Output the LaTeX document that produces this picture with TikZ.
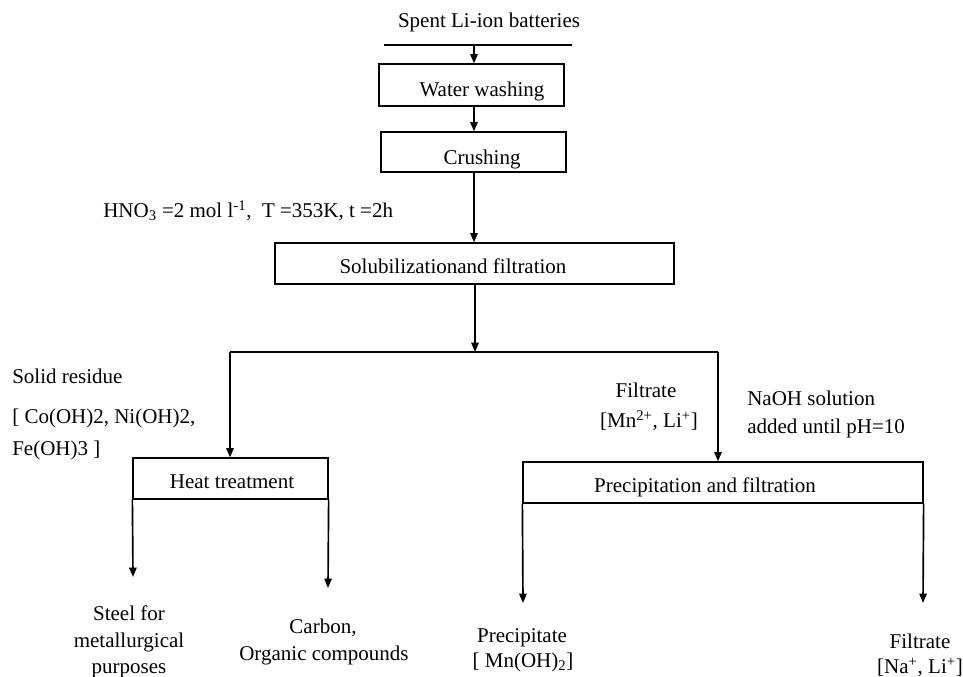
\documentclass[tikz,border=0pt]{standalone}
\usepackage{fontspec}
\setmainfont{Liberation Serif}
\usetikzlibrary{arrows.meta,fit}
\begin{document}
\begin{tikzpicture}[x=0.75pt,y=-0.75pt,
  every node/.style={font=\fontsize{15.75}{20.25}\selectfont, inner sep=0pt},
  box/.style={draw, line width=0.95pt, fit=#1, inner sep=0pt},
  conn/.style={line width=1.25pt, -{Triangle[length=7pt,width=5.5pt]}},
  plain/.style={line width=1pt},
  txt/.style={anchor=base},
  lbl/.style={anchor=base west}]
\useasboundingbox (0,0) rectangle (963,676);
% box corners
\coordinate (w1) at (379,64);  \coordinate (w2) at (564,106);
\coordinate (c1) at (381,132); \coordinate (c2) at (566,172);
\coordinate (o1) at (275,243); \coordinate (o2) at (674,284);
\coordinate (h1) at (133,458); \coordinate (h2) at (328,499);
\coordinate (p1) at (523,462); \coordinate (p2) at (923,503);
\node[box={(w1)(w2)}] (water) {};
\node[box={(c1)(c2)}] (crush) {};
\node[box={(o1)(o2)}] (sol) {};
\node[box={(h1)(h2)}] (heat) {};
\node[box={(p1)(p2)}] (prec) {};
% texts
\node[txt] (spent) at (489,27) {Spent Li-ion batteries};
\node[txt] (waterT) at (482,96) {Water washing};
\node[txt] (crushT) at (482,164) {Crushing};
\node[lbl] (hno) at (103,217) {HNO\textsubscript{3} =2 mol l\textsuperscript{-1},~~T =353K, t =2h};
\node[txt] (solT) at (453,273) {Solubilizationand filtration};
\node[txt] (heatT) at (232,488) {Heat treatment};
\node[txt] (precT) at (705,492) {Precipitation and filtration};
\node[lbl] (sr1) at (12,383) {Solid residue};
\node[lbl] (sr2) at (12,423) {[ Co(OH)2, Ni(OH)2,};
\node[lbl] (sr3) at (12,455) {Fe(OH)3 ]};
\node[txt] (st1) at (129,620) {Steel for};
\node[txt] (st2) at (129,647) {metallurgical};
\node[txt] (st3) at (129,673) {purposes};
\node[txt] (cb1) at (323,633) {Carbon,};
\node[txt] (cb2) at (324,660) {Organic compounds};
\node[txt] (fm1) at (646,397) {Filtrate};
\node[txt] (fm2) at (649,427) {[Mn\textsuperscript{2+}, Li\textsuperscript{+}]};
\node[lbl] (na1) at (747,405) {NaOH solution};
\node[lbl] (na2) at (747,433) {added until pH=10};
\node[txt] (pr1) at (522,642) {Precipitate};
\node[txt] (pr2) at (523,667) {[ Mn(OH)\textsubscript{2}]};
\node[txt] (fn1) at (920,648) {Filtrate};
\node[txt] (fn2) at (920,673) {[Na\textsuperscript{+}, Li\textsuperscript{+}]};
% connectors
\coordinate (tl) at (384,45); \coordinate (tr) at (572,45);
\coordinate (ta) at (474,45);
\draw[plain] (tl) -- (tr);
\draw[conn] (ta) -- (ta |- water.north);
\draw[conn] (ta |- water.south) -- (ta |- crush.north);
\draw[conn] (ta |- crush.south) -- (ta |- sol.north);
\coordinate (j) at (475,352);
\coordinate (jl) at (230,352); \coordinate (jr) at (718,352);
\draw[conn] (j |- sol.south) -- (j);
\draw[plain] (jl) -- (jr);
\draw[conn] (jl) -- (jl |- heat.north);
\draw[conn] (jr) -- (jr |- prec.north);
\coordinate (e1) at (133,577); \coordinate (e2) at (328,588);
\coordinate (e3) at (523,603); \coordinate (e4) at (923,603);
\draw[conn] (heat.south west) -- (e1);
\draw[conn] (heat.south east) -- (e2);
\draw[conn] (prec.south west) -- (e3);
\draw[conn] (prec.south east) -- (e4);
\end{tikzpicture}
\end{document}
